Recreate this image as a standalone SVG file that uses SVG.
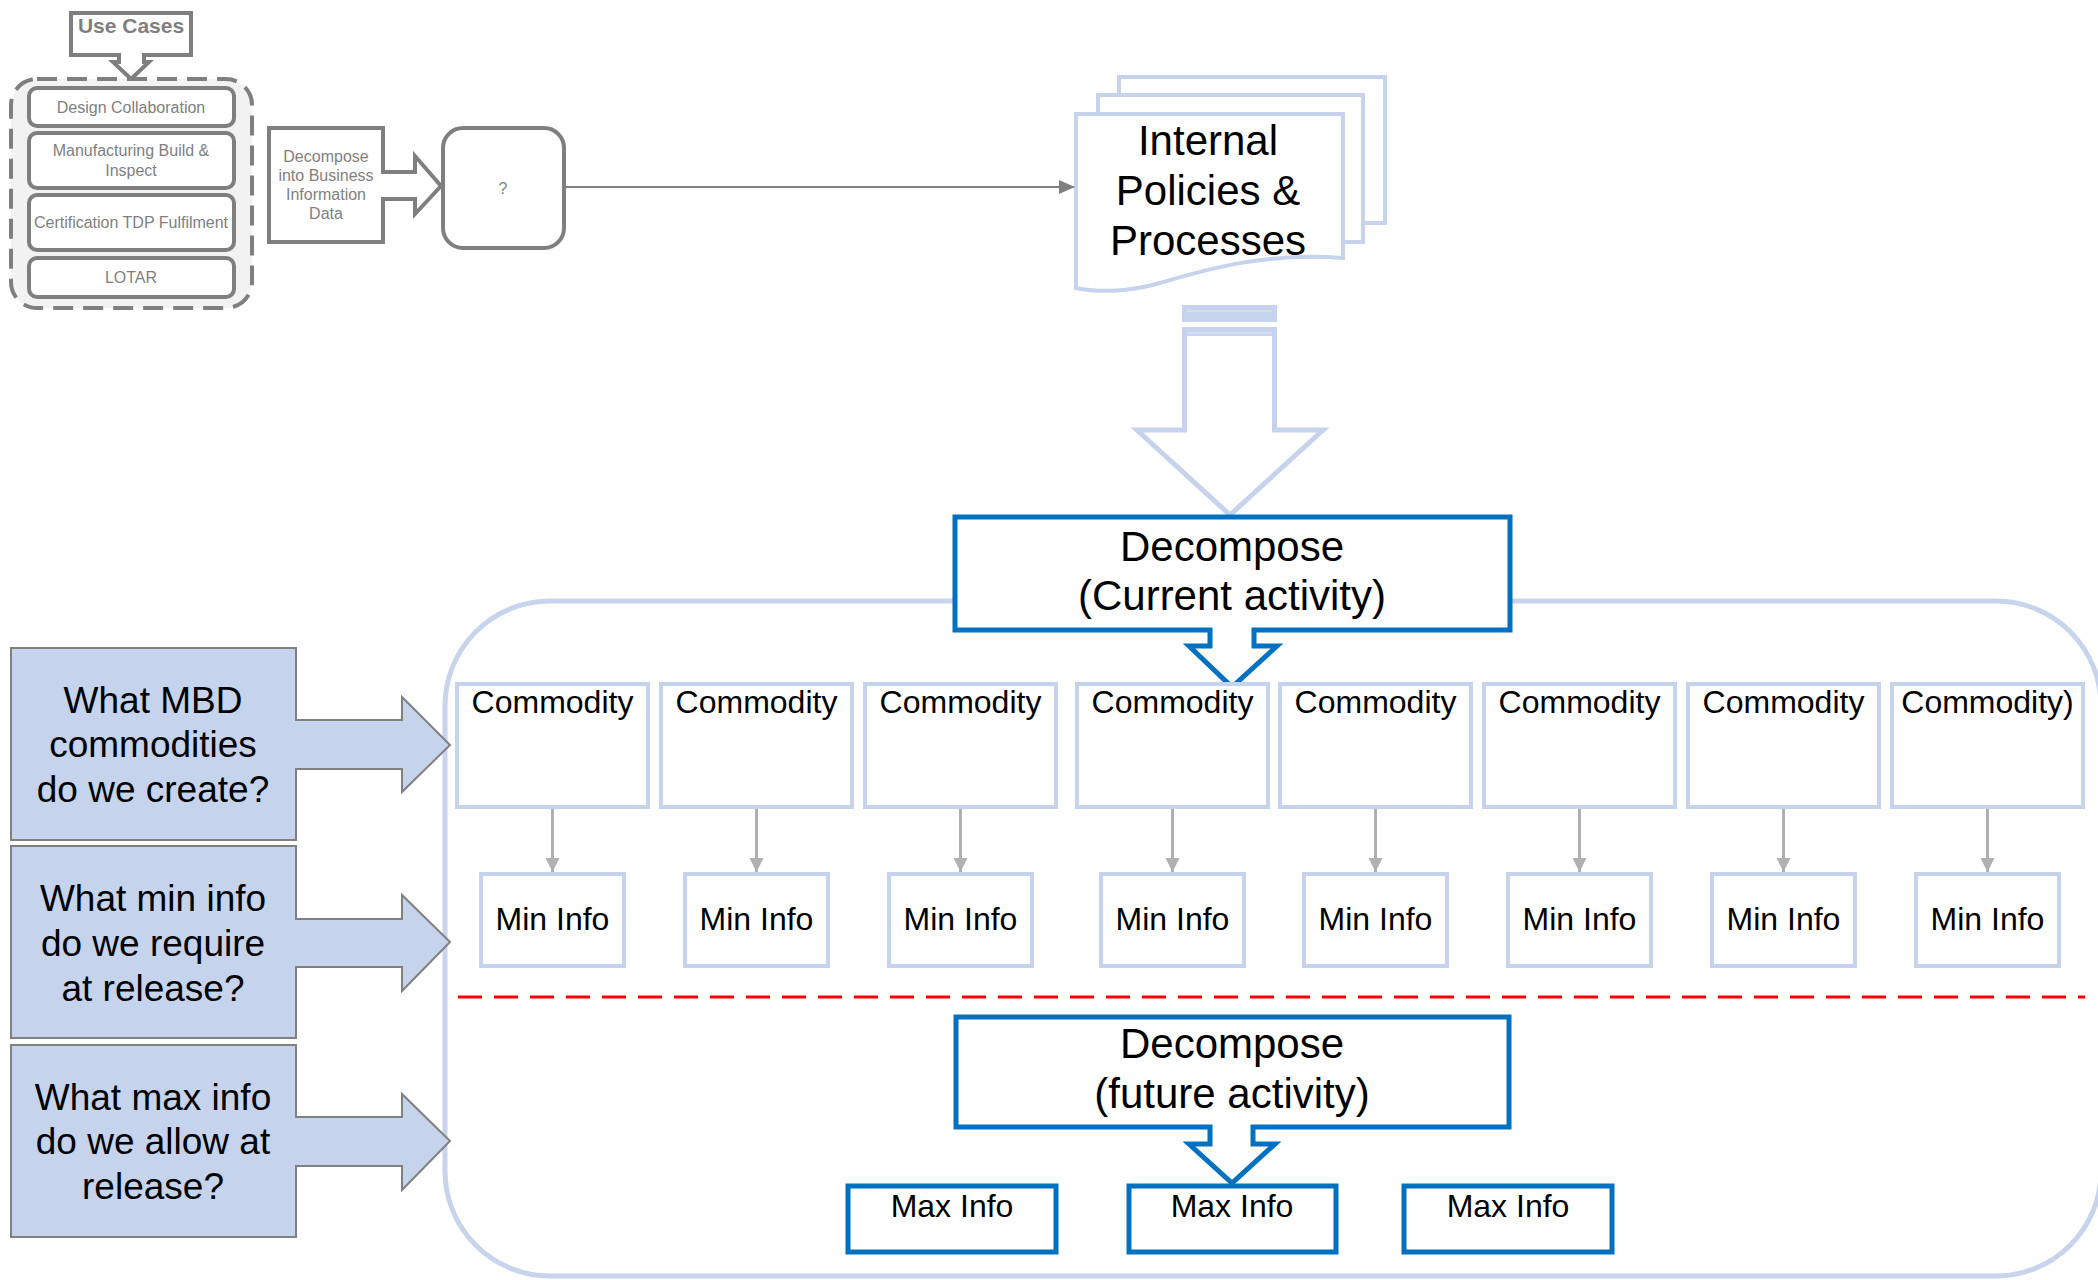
<svg xmlns="http://www.w3.org/2000/svg" width="2098" height="1280" viewBox="0 0 2098 1280">
  <style>
    text { font-family: "Liberation Sans", Arial, sans-serif; text-anchor: middle; }
    .gray { fill: #fff; stroke: #7f7f7f; stroke-width: 4; stroke-linejoin: miter; }
    .gtxt { fill: #7f7f7f; font-size: 16px; }
    .lb { fill: #fff; stroke: #c6d3ec; stroke-width: 4; }
    .lbf { fill: #c6d3ec; }
    .blue { fill: #fff; stroke: #0070c0; stroke-width: 5; }
    .q { fill: #c6d3ec; stroke: #808080; stroke-width: 2; }
    .qt { fill: #000; font-size: 37px; }
    .big { fill: #000; font-size: 42px; }
    .cm { fill: #000; font-size: 32px; }
    .conn { stroke: #b0b0b0; stroke-width: 3; fill: none; }
  </style>
  <defs>
    <marker id="ah-gray" markerWidth="16" markerHeight="14" refX="15" refY="7" orient="auto" markerUnits="userSpaceOnUse">
      <path d="M0,0 L16,7 L0,14 Z" fill="#808080"/>
    </marker>
    <marker id="ah-light" markerWidth="16" markerHeight="14" refX="14" refY="7" orient="auto" markerUnits="userSpaceOnUse">
      <path d="M0,0 L14,7 L0,14 Z" fill="#b0b0b0"/>
    </marker>
  </defs>

  <!-- Large rounded scope container -->
  <g id="scope">
    <rect x="445" y="601" width="1656" height="675" rx="105" ry="105" fill="none" stroke="#c8d4ec" stroke-width="5"/>
  </g>

  <!-- Use cases group -->
  <g id="use-cases">
    <path class="gray" d="M71,13 H191 V55 H144 V62 H149 L131,79 L113,62 H119 V55 H71 Z"/>
    <text x="131" y="33" font-size="21" font-weight="bold" fill="#7f7f7f">Use Cases</text>
  </g>
  <g id="use-case-list">
    <rect x="11" y="79" width="241" height="229" rx="26" ry="26" fill="#f2f2f2" stroke="#7f7f7f" stroke-width="4" stroke-dasharray="20 10"/>
  </g>
  <g id="uc-design">
    <rect class="gray" x="29" y="88" width="205" height="38" rx="8"/>
    <text class="gtxt" x="131" y="113">Design Collaboration</text>
  </g>
  <g id="uc-manufacturing">
    <rect class="gray" x="29" y="133" width="205" height="55" rx="8"/>
    <text class="gtxt" x="131" y="156">Manufacturing Build &amp;</text>
    <text class="gtxt" x="131" y="176">Inspect</text>
  </g>
  <g id="uc-certification">
    <rect class="gray" x="29" y="195" width="205" height="55" rx="8"/>
    <text class="gtxt" x="131" y="228">Certification TDP Fulfilment</text>
  </g>
  <g id="uc-lotar">
    <rect class="gray" x="29" y="258" width="205" height="39" rx="8"/>
    <text class="gtxt" x="131" y="283">LOTAR</text>
  </g>

  <!-- Decompose into business information callout -->
  <g id="decompose-bid">
    <path class="gray" d="M269,128 H383 V172 H415 V156 L441,186 L415,214 V199 H383 V242 H269 Z"/>
    <text class="gtxt" x="326" y="162">Decompose</text>
    <text class="gtxt" x="326" y="181">into Business</text>
    <text class="gtxt" x="326" y="200">Information</text>
    <text class="gtxt" x="326" y="219">Data</text>
  </g>

  <g id="unknown">
    <rect class="gray" x="443" y="128" width="121" height="120" rx="20"/>
    <text class="gtxt" x="503" y="194" font-size="18">?</text>
  </g>

  <!-- Internal policies document stack -->
  <g id="policies">
    <rect class="lb" x="1119" y="77" width="266" height="146"/>
    <rect class="lb" x="1098" y="95" width="265" height="147"/>
    <path class="lb" d="M1076,114 H1343 V258 C1270,252 1210,268 1160,283 C1125,293 1095,292 1076,288 Z"/>
    <text class="big" x="1208" y="155">Internal</text>
    <text class="big" x="1208" y="205">Policies &amp;</text>
    <text class="big" x="1208" y="255">Processes</text>
  </g>

  <!-- Hollow flow arrow from policies to decomposition -->
  <g id="policies-arrow">
    <rect class="lbf" x="1182" y="305" width="95" height="17"/>
    <line x1="1187" y1="311" x2="1272" y2="311" stroke="#e4eaf6" stroke-width="1"/>
    <rect class="lbf" x="1182" y="327" width="95" height="10"/>
    <line x1="1187" y1="333" x2="1272" y2="333" stroke="#e4eaf6" stroke-width="1"/>
    <path d="M1184.5,336 V430 H1137 L1230,515 L1323,430 H1274.5 V336" fill="#fff" stroke="#c6d3ec" stroke-width="5"/>
  </g>

  <!-- Decompose current activity -->
  <g id="decompose-current">
    <path class="blue" d="M955,517 H1510 V630 H1254 V646 H1277 L1232,687 L1189,646 H1210 V630 H955 Z"/>
    <text class="big" x="1232" y="561">Decompose</text>
    <text class="big" x="1232" y="610">(Current activity)</text>
  </g>

  <!-- Question callouts -->
  <g id="q-commodities">
    <path class="q" d="M11,648 H296 V720 H402 V697 L450,745 L402,792 V769 H296 V840 H11 Z"/>
    <text class="qt" x="153" y="713">What MBD</text>
    <text class="qt" x="153" y="757">commodities</text>
    <text class="qt" x="153" y="802">do we create?</text>
  </g>
  <g id="q-min">
    <path class="q" d="M11,846 H296 V919 H402 V895 L450,942 L402,991 V967 H296 V1038 H11 Z"/>
    <text class="qt" x="153" y="911">What min info</text>
    <text class="qt" x="153" y="956">do we require</text>
    <text class="qt" x="153" y="1001">at release?</text>
  </g>
  <g id="q-max">
    <path class="q" d="M11,1045 H296 V1117 H402 V1094 L450,1141 L402,1190 V1166 H296 V1237 H11 Z"/>
    <text class="qt" x="153" y="1110">What max info</text>
    <text class="qt" x="153" y="1154">do we allow at</text>
    <text class="qt" x="153" y="1199">release?</text>
  </g>

  <!-- Commodities -->
  <g id="commodity-1"><rect class="lb" x="457" y="684" width="191" height="123"/><text class="cm" x="552.5" y="713">Commodity</text></g>
  <g id="commodity-2"><rect class="lb" x="661" y="684" width="191" height="123"/><text class="cm" x="756.5" y="713">Commodity</text></g>
  <g id="commodity-3"><rect class="lb" x="865" y="684" width="191" height="123"/><text class="cm" x="960.5" y="713">Commodity</text></g>
  <g id="commodity-4"><rect class="lb" x="1077" y="684" width="191" height="123"/><text class="cm" x="1172.5" y="713">Commodity</text></g>
  <g id="commodity-5"><rect class="lb" x="1280" y="684" width="191" height="123"/><text class="cm" x="1375.5" y="713">Commodity</text></g>
  <g id="commodity-6"><rect class="lb" x="1484" y="684" width="191" height="123"/><text class="cm" x="1579.5" y="713">Commodity</text></g>
  <g id="commodity-7"><rect class="lb" x="1688" y="684" width="191" height="123"/><text class="cm" x="1783.5" y="713">Commodity</text></g>
  <g id="commodity-8"><rect class="lb" x="1892" y="684" width="191" height="123"/><text class="cm" x="1987.5" y="713">Commodity)</text></g>

  <!-- Minimum info -->
  <g id="min-1"><rect class="lb" x="481" y="874" width="143" height="92"/><text class="cm" x="552.5" y="930">Min Info</text></g>
  <g id="min-2"><rect class="lb" x="685" y="874" width="143" height="92"/><text class="cm" x="756.5" y="930">Min Info</text></g>
  <g id="min-3"><rect class="lb" x="889" y="874" width="143" height="92"/><text class="cm" x="960.5" y="930">Min Info</text></g>
  <g id="min-4"><rect class="lb" x="1101" y="874" width="143" height="92"/><text class="cm" x="1172.5" y="930">Min Info</text></g>
  <g id="min-5"><rect class="lb" x="1304" y="874" width="143" height="92"/><text class="cm" x="1375.5" y="930">Min Info</text></g>
  <g id="min-6"><rect class="lb" x="1508" y="874" width="143" height="92"/><text class="cm" x="1579.5" y="930">Min Info</text></g>
  <g id="min-7"><rect class="lb" x="1712" y="874" width="143" height="92"/><text class="cm" x="1783.5" y="930">Min Info</text></g>
  <g id="min-8"><rect class="lb" x="1916" y="874" width="143" height="92"/><text class="cm" x="1987.5" y="930">Min Info</text></g>

  <!-- Release boundary -->
  <line id="release-line" x1="458" y1="997" x2="2085" y2="997" stroke="#ff0000" stroke-width="3" stroke-dasharray="24 12"/>

  <!-- Decompose future activity -->
  <g id="decompose-future">
    <path class="blue" d="M956,1017 H1509 V1127 H1253 V1144 H1275 L1232,1183 L1189,1144 H1210 V1127 H956 Z"/>
    <text class="big" x="1232" y="1058">Decompose</text>
    <text class="big" x="1232" y="1108">(future activity)</text>
  </g>

  <!-- Maximum info -->
  <g id="max-1"><rect class="blue" x="848" y="1186" width="208" height="66"/><text class="cm" x="952" y="1217">Max Info</text></g>
  <g id="max-2"><rect class="blue" x="1129" y="1186" width="207" height="66"/><text class="cm" x="1232" y="1217">Max Info</text></g>
  <g id="max-3"><rect class="blue" x="1404" y="1186" width="208" height="66"/><text class="cm" x="1508" y="1217">Max Info</text></g>

  <!-- Connectors -->
  <g id="connectors">
    <line x1="564" y1="187" x2="1074" y2="187" stroke="#808080" stroke-width="2" marker-end="url(#ah-gray)"/>
    <line class="conn" x1="552.5" y1="809" x2="552.5" y2="872" marker-end="url(#ah-light)"/>
    <line class="conn" x1="756.5" y1="809" x2="756.5" y2="872" marker-end="url(#ah-light)"/>
    <line class="conn" x1="960.5" y1="809" x2="960.5" y2="872" marker-end="url(#ah-light)"/>
    <line class="conn" x1="1172.5" y1="809" x2="1172.5" y2="872" marker-end="url(#ah-light)"/>
    <line class="conn" x1="1375.5" y1="809" x2="1375.5" y2="872" marker-end="url(#ah-light)"/>
    <line class="conn" x1="1579.5" y1="809" x2="1579.5" y2="872" marker-end="url(#ah-light)"/>
    <line class="conn" x1="1783.5" y1="809" x2="1783.5" y2="872" marker-end="url(#ah-light)"/>
    <line class="conn" x1="1987.5" y1="809" x2="1987.5" y2="872" marker-end="url(#ah-light)"/>
  </g>
</svg>
